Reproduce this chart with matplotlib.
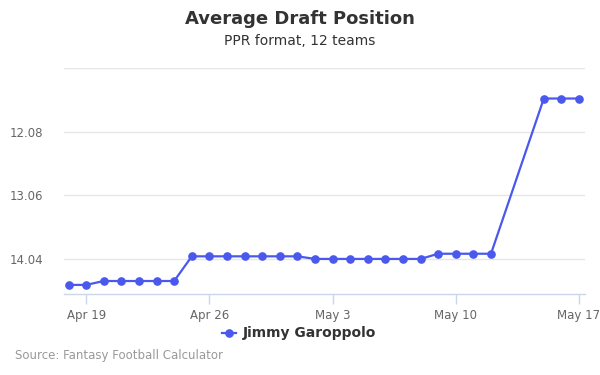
import matplotlib
matplotlib.use("Agg")
import matplotlib.pyplot as plt
import datetime as dt

dates = ["2018-04-18", "2018-04-19", "2018-04-20", "2018-04-21", "2018-04-22",
         "2018-04-23", "2018-04-24", "2018-04-25", "2018-04-26", "2018-04-27",
         "2018-04-28", "2018-04-29", "2018-04-30", "2018-05-01", "2018-05-02",
         "2018-05-03", "2018-05-04", "2018-05-05", "2018-05-06", "2018-05-07",
         "2018-05-08", "2018-05-09", "2018-05-10", "2018-05-11", "2018-05-12",
         "2018-05-15", "2018-05-16", "2018-05-17"]
adp = [14.44, 14.44, 14.38, 14.38, 14.38, 14.38, 14.38, 14.00, 14.00, 14.00,
       14.00, 14.00, 14.00, 14.00, 14.04, 14.04, 14.04, 14.04, 14.04, 14.04,
       14.04, 13.96, 13.96, 13.96, 13.96, 11.57, 11.57, 11.57]
y_ticks = [12.08, 13.06, 14.04]
x_tick_dates = ["2018-04-19", "2018-04-26", "2018-05-03", "2018-05-10", "2018-05-17"]
x_tick_labels = ["Apr 19", "Apr 26", "May 3", "May 10", "May 17"]
series_name = "Jimmy Garoppolo"

color = "#4A58EE"
x = [dt.datetime.strptime(d, "%Y-%m-%d") for d in dates]
xt = [dt.datetime.strptime(d, "%Y-%m-%d") for d in x_tick_dates]

fig = plt.figure(figsize=(6, 3.75), dpi=100)
ax = fig.add_axes([64/600, 1-294/375, (585-64)/600, (294-68)/375])

for yg in [11.10] + y_ticks:
    ax.axhline(yg, color="#e6e6e6", lw=1, zorder=0)

ax.plot(x, adp, color=color, lw=1.6, marker="o", markersize=5.2, zorder=3,
        clip_on=False)

ax.set_ylim(14.58, 11.10)
ax.set_xlim(x[0] - dt.timedelta(days=0.26), x[-1] + dt.timedelta(days=0.34))
ax.set_yticks(y_ticks)
ax.set_yticklabels([f"{v:.2f}" for v in y_ticks])
ax.set_xticks(xt)
ax.set_xticklabels(x_tick_labels)

for s in ["top", "right", "left"]:
    ax.spines[s].set_visible(False)
ax.spines["bottom"].set_color("#ccd6eb")
ax.spines["bottom"].set_linewidth(1)
ax.tick_params(axis="x", colors="#ccd6eb", length=7, width=1, labelcolor="#666666",
               labelsize=8.5, pad=4)
ax.tick_params(axis="y", length=0, labelcolor="#666666", labelsize=8.5, pad=15)

fig.text(0.5, 1-19/375, "Average Draft Position", ha="center", va="center",
         fontsize=13, fontweight="bold", color="#333333")
fig.text(0.5, 1-41/375, "PPR format, 12 teams", ha="center", va="center",
         fontsize=10, color="#333333")

# legend
lx, ly = 229/600, 1-333/375
fig.lines.append(plt.Line2D([lx-7/600, lx+7/600], [ly, ly], transform=fig.transFigure,
                            color=color, lw=1.6))
fig.lines.append(plt.Line2D([lx], [ly], transform=fig.transFigure, color=color,
                            marker="o", markersize=5.2, linestyle="None"))
fig.text(243/600, ly, series_name, ha="left", va="center", fontsize=10,
         fontweight="bold", color="#333333")

fig.text(15/600, 1-356/375, "Source: Fantasy Football Calculator", ha="left",
         va="center", fontsize=8.5, color="#999999")

fig.savefig("out.png", dpi=100)
